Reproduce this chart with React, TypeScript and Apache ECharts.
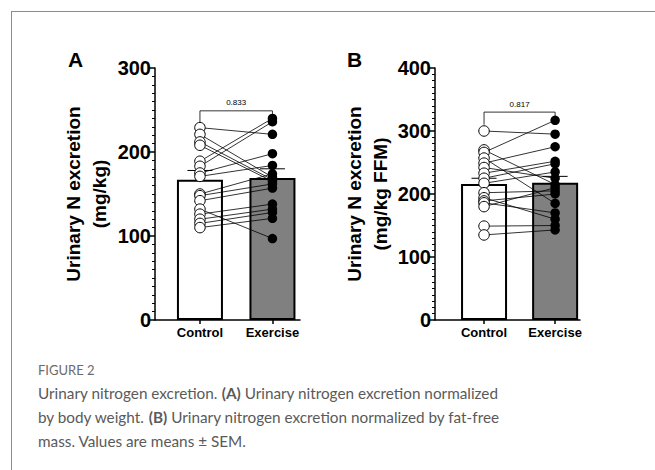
import React, { useEffect, useRef } from 'react';
import * as echarts from 'echarts';

const categories = ['Control', 'Exercise'];

// Panel A (mg/kg)
const yTicksA = [0, 100, 200, 300];
const controlA = [229, 221, 212, 208, 189, 183, 175, 171, 150, 148, 142, 132, 126, 120, 115, 110];
const exerciseA = [221, 170, 167, 165, 240, 236, 198, 184, 174, 162, 157, 97, 138, 132, 128, 121];
const meanA = [167, 169];
const semA = [11, 11];
const pValueA = '0.833';
const bracketA = [249, 235, 243];
const yTitleA = ['Urinary N excretion', '(mg/kg)'];

// Panel B (mg/kg FFM)
const yTicksB = [0, 100, 200, 300, 400];
const controlB = [300, 270, 266, 257, 249, 242, 233, 225, 217, 202, 194, 189, 186, 180, 149, 135];
const exerciseB = [295, 215, 317, 185, 275, 225, 252, 248, 235, 205, 160, 200, 170, 210, 150, 143];
const meanB = [216, 218];
const semB = [9, 10];
const pValueB = '0.817';
const bracketB = [330, 310, 322];
const yTitleB = ['Urinary N excretion', '(mg/kg FFM)'];

const FONT = '"Liberation Sans", Arial, sans-serif';
const CAPTION_FONT = 'Lato, "Open Sans", sans-serif';

function panelSeries(idx: number, control: number[], exercise: number[], mean: number[], sem: number[], bracket: number[], pValue: string) {
  const axes = { xAxisIndex: idx, yAxisIndex: idx };
  return [
    {
      type: 'bar', ...axes, z: 1, barWidth: 46,
      data: mean.map((m, i) => ({
        value: [i, m],
        itemStyle: { color: i === 0 ? '#ffffff' : '#808080', borderColor: '#000', borderWidth: 2 },
      })),
    },
    {
      type: 'custom', ...axes, z: 2,
      data: mean.map((m, i) => [i, m, sem[i]]),
      encode: { x: 0, y: 1 },
      renderItem: (params: any, api: any) => {
        const x = api.value(0), m = api.value(1), s = api.value(2);
        const p0 = api.coord([x, m]);
        const p1 = api.coord([x, m + s]);
        const st = { stroke: '#000', lineWidth: 1 };
        return {
          type: 'group',
          children: [
            { type: 'line', shape: { x1: p0[0], y1: p0[1], x2: p1[0], y2: p1[1] }, style: st },
            { type: 'line', shape: { x1: p1[0] - 12.5, y1: p1[1], x2: p1[0] + 12.5, y2: p1[1] }, style: st },
          ],
        };
      },
    },
    {
      type: 'custom', ...axes, z: 3,
      data: control.map((c, i) => [0, c, 1, exercise[i]]),
      encode: { x: [0, 2], y: [1, 3] },
      renderItem: (params: any, api: any) => {
        const a = api.coord([api.value(0), api.value(1)]);
        const b = api.coord([api.value(2), api.value(3)]);
        return { type: 'line', shape: { x1: a[0], y1: a[1], x2: b[0], y2: b[1] }, style: { stroke: '#000', lineWidth: 0.8 } };
      },
    },
    {
      type: 'custom', ...axes, z: 3,
      data: [[0, 1, bracket[0], bracket[1], bracket[2]]],
      encode: { x: [0, 1], y: [2, 3, 4] },
      renderItem: (params: any, api: any) => {
        const x0 = api.value(0), x1 = api.value(1);
        const top = api.value(2), lb = api.value(3), rb = api.value(4);
        const pts = [api.coord([x0, lb]), api.coord([x0, top]), api.coord([x1, top]), api.coord([x1, rb])];
        return {
          type: 'group',
          children: [
            { type: 'polyline', shape: { points: pts }, style: { stroke: '#000', lineWidth: 0.8, fill: null } },
            {
              type: 'text',
              style: {
                x: (pts[1][0] + pts[2][0]) / 2, y: pts[1][1] - 4, text: pValue,
                textAlign: 'center', textVerticalAlign: 'bottom', fontSize: 8, fontFamily: FONT, fill: '#000',
              },
            },
          ],
        };
      },
    },
    {
      type: 'scatter', ...axes, z: 4, symbol: 'circle', symbolSize: 10.5,
      itemStyle: { color: '#fff', borderColor: '#000', borderWidth: 1, opacity: 1 },
      data: control.map((v) => [0, v]),
    },
    {
      type: 'scatter', ...axes, z: 4, symbol: 'circle', symbolSize: 9.5,
      itemStyle: { color: '#000', opacity: 1 },
      data: exercise.map((v) => [1, v]),
    },
  ];
}

function yAxis(idx: number, ticks: number[], title: string[], nameGap: number) {
  return {
    type: 'value', gridIndex: idx, min: ticks[0], max: ticks[ticks.length - 1], interval: ticks[1] - ticks[0],
    axisLine: { show: true, onZero: false, lineStyle: { color: '#000', width: 1.5 } },
    axisTick: { show: true, length: 6, lineStyle: { color: '#000', width: 1.5 } },
    minorTick: { show: true, splitNumber: 10, length: 3, lineStyle: { color: '#000', width: 1 } },
    splitLine: { show: false },
    minorSplitLine: { show: false },
    axisLabel: { fontSize: 20, fontWeight: 'bold', color: '#000', fontFamily: FONT, margin: 4 },
    name: title.join('\n'), nameLocation: 'middle', nameRotate: 90, nameGap,
    nameTextStyle: { fontSize: 19, fontWeight: 'bold', color: '#000', fontFamily: FONT, lineHeight: 26 },
  };
}

function xAxis(idx: number, min: number, max: number) {
  return {
    type: 'value', gridIndex: idx, min, max,
    axisLine: { show: true, onZero: false, lineStyle: { color: '#000', width: 1.5 } },
    axisTick: { show: true, customValues: [0, 1], length: 4, lineStyle: { color: '#000', width: 1.5 } },
    axisLabel: {
      customValues: [0, 1], formatter: (v: number) => categories[Math.round(v)],
      fontSize: 13, fontWeight: 'bold', color: '#000', fontFamily: FONT, margin: 6,
    },
    splitLine: { show: false },
  };
}

export default function App() {
  const ref = useRef<HTMLDivElement>(null);
  useEffect(() => {
    if (!ref.current) return;
    const chart = echarts.init(ref.current, null, { renderer: 'svg' });
    chart.setOption({
      animation: false,
      backgroundColor: '#fff',
      grid: [
        { left: 155, top: 68, width: 145, height: 252 },
        { left: 435, top: 68, width: 145, height: 252 },
      ],
      xAxis: [xAxis(0, -0.62, 1.38), xAxis(1, -0.69, 1.35)],
      yAxis: [yAxis(0, yTicksA, yTitleA, 43), yAxis(1, yTicksB, yTitleB, 34)],
      series: [
        ...panelSeries(0, controlA, exerciseA, meanA, semA, bracketA, pValueA),
        ...panelSeries(1, controlB, exerciseB, meanB, semB, bracketB, pValueB),
      ],
      graphic: [
        { type: 'line', shape: { x1: 11, y1: 11.5, x2: 655, y2: 11.5 }, style: { stroke: '#8c8c8c', lineWidth: 1 } },
        { type: 'line', shape: { x1: 11.5, y1: 11, x2: 11.5, y2: 470 }, style: { stroke: '#8c8c8c', lineWidth: 1 } },
        { type: 'text', left: 68, top: 49, style: { text: 'A', fontSize: 21, fontWeight: 'bold', fontFamily: FONT, fill: '#000' } },
        { type: 'text', left: 347, top: 49, style: { text: 'B', fontSize: 21, fontWeight: 'bold', fontFamily: FONT, fill: '#000' } },
        { type: 'text', left: 38, top: 363, style: { text: 'FIGURE 2', fontSize: 13, fontFamily: CAPTION_FONT, fill: '#6b6b6b' } },
        {
          type: 'text', left: 38, top: 381,
          style: {
            text: 'Urinary nitrogen excretion. {b|(A)} Urinary nitrogen excretion normalized\nby body weight. {b|(B)} Urinary nitrogen excretion normalized by fat-free\nmass. Values are means ± SEM.',
            fontSize: 15.3, lineHeight: 24, fontFamily: CAPTION_FONT, fill: '#5a5a5a',
            rich: { b: { fontSize: 15.3, lineHeight: 24, fontWeight: 'bold', fontFamily: CAPTION_FONT, fill: '#5a5a5a' } },
          },
        },
      ],
    });
    return () => chart.dispose();
  }, []);
  return <div ref={ref} style={{ position: 'fixed', left: 0, top: 0, width: 655, height: 470 }} />;
}
